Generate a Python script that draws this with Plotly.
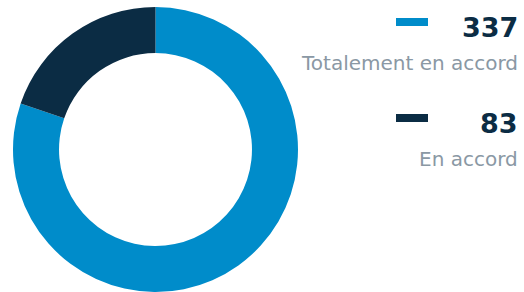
import plotly.graph_objects as go

labels = ["Totalement en accord", "En accord"]
values = [337, 83]
colors = ["#008CCA", "#0B2C44"]

W, H = 524, 292
fig = go.Figure(go.Pie(
    labels=labels, values=values, hole=0.677, sort=False,
    direction="clockwise", rotation=0,
    marker=dict(colors=colors, line=dict(width=0)),
    textinfo="none", hoverinfo="label+value", showlegend=False,
    domain=dict(x=[13 / W, 298 / W], y=[0, 285 / H]),
))

def py(p):
    return 1 - p / H

bar_y = [22, 118]
num_y = [28, 123]
lab_y = [63, 159]
for i in range(len(labels)):
    fig.add_shape(type="rect", xref="paper", yref="paper",
                  x0=396 / W, x1=428 / W, y0=py(bar_y[i] + 4), y1=py(bar_y[i] - 4),
                  fillcolor=colors[i], line=dict(width=0))
    fig.add_annotation(xref="paper", yref="paper", x=520 / W, y=py(num_y[i]),
                       xanchor="right", yanchor="middle", showarrow=False,
                       text="<b>%d</b>" % values[i],
                       font=dict(family="DejaVu Sans", size=27, color="#0B2C44"))
    fig.add_annotation(xref="paper", yref="paper", x=520 / W, y=py(lab_y[i]),
                       xanchor="right", yanchor="middle", showarrow=False,
                       text=labels[i],
                       font=dict(family="DejaVu Sans", size=20, color="#8A98A4"))

fig.update_layout(width=W, height=H, margin=dict(l=0, r=0, t=0, b=0),
                  paper_bgcolor="white", plot_bgcolor="white")
fig.write_html("out.html", config={"displayModeBar": False},
               post_script="document.body.style.margin='0';document.body.style.overflow='hidden';")
